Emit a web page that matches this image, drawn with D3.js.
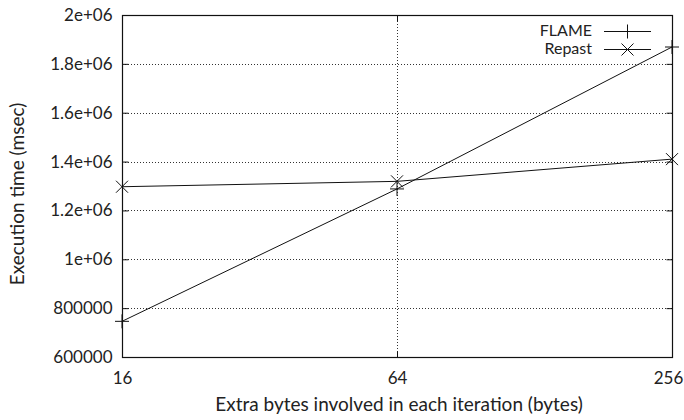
<!DOCTYPE html>
<html>
<head>
<meta charset="utf-8">
<script src="https://cdn.jsdelivr.net/npm/d3@7"></script>
<style>
  html, body { margin: 0; padding: 0; background: #fff; }
  svg { display: block; }
  text { font-family: Lato, "Open Sans", sans-serif; fill: #222; }
</style>
</head>
<body>
<svg id="chart" width="684" height="420"></svg>
<script>
// Execution time vs. extra bytes per iteration
const bytes = [16, 64, 256];
const flame = [746000, 1288000, 1869000];
const repast = [1297000, 1319000, 1410000];
const seriesNames = ["FLAME", "Repast"];
const yTicks = [600000, 800000, 1000000, 1200000, 1400000, 1600000, 1800000, 2000000];
const yTickLabels = ["600000", "800000", "1e+06", "1.2e+06", "1.4e+06", "1.6e+06", "1.8e+06", "2e+06"];

const svg = d3.select("#chart");
const pLeft = 122, pRight = 672, pTop = 15, pBottom = 357;
const font = "Lato, 'Open Sans', sans-serif";

const x = d3.scaleLog().base(4).domain([16, 256]).range([pLeft, pRight]);
const y = d3.scaleLinear().domain([600000, 2000000]).range([pBottom, pTop]);

// dotted grid at interior ticks
const grid = svg.append("g").attr("stroke", "#333").attr("stroke-width", 1)
  .attr("stroke-dasharray", "1,2");
yTicks.slice(1, -1).forEach(v => {
  grid.append("line").attr("x1", pLeft).attr("x2", pRight)
    .attr("y1", Math.round(y(v)) + 0.5).attr("y2", Math.round(y(v)) + 0.5);
});
bytes.slice(1, -1).forEach(v => {
  grid.append("line").attr("y1", pTop).attr("y2", pBottom)
    .attr("x1", Math.round(x(v)) + 0.5).attr("x2", Math.round(x(v)) + 0.5);
});

// axes
const yAxis = d3.axisLeft(y).tickValues(yTicks)
  .tickFormat((d, i) => yTickLabels[i]).tickSize(-6).tickPadding(10);
const gy = svg.append("g").attr("transform", `translate(${pLeft + 0.5},0)`).call(yAxis);
const xAxis = d3.axisBottom(x).tickValues(bytes).tickFormat(d3.format("d"))
  .tickSize(-6).tickPadding(14);
const gx = svg.append("g").attr("transform", `translate(0,${pBottom + 0.5})`).call(xAxis);
// mirrored ticks on right and top
const yAxisR = d3.axisRight(y).tickValues(yTicks).tickFormat("").tickSize(-6);
const gyr = svg.append("g").attr("transform", `translate(${pRight + 0.5},0)`).call(yAxisR);
const xAxisT = d3.axisTop(x).tickValues(bytes).tickFormat("").tickSize(-6);
const gxt = svg.append("g").attr("transform", `translate(0,${pTop + 0.5})`).call(xAxisT);
[gy, gx, gyr, gxt].forEach(g => {
  g.select(".domain").remove();
  g.selectAll(".tick line").attr("stroke", "#111");
  g.selectAll("text").style("font-family", font)
    .style("font-size", "17px").attr("fill", "#222");
});
// keep the last x label inside the page
gx.selectAll(".tick text").filter(d => d === 256).attr("dx", "-4");

// border
svg.append("rect").attr("x", pLeft + 0.5).attr("y", pTop + 0.5)
  .attr("width", pRight - pLeft).attr("height", pBottom - pTop)
  .attr("fill", "none").attr("stroke", "#111").attr("stroke-width", 1.2);

// axis titles
svg.append("text").attr("x", (pLeft + pRight) / 2 + 2).attr("y", 411)
  .attr("text-anchor", "middle").style("font-size", "19px")
  .text("Extra bytes involved in each iteration (bytes)");
svg.append("text").attr("transform", `translate(24,${(pTop + pBottom) / 2 + 8}) rotate(-90)`)
  .attr("text-anchor", "middle").style("font-size", "19px")
  .text("Execution time (msec)");

// markers
const plus = (g, cx, cy, r) => {
  g.append("path").attr("d", `M${cx - r},${cy}H${cx + r}M${cx},${cy - r}V${cy + r}`)
    .attr("stroke", "#111").attr("fill", "none").attr("stroke-width", 1);
};
const cross = (g, cx, cy, r) => {
  g.append("path").attr("d", `M${cx - r},${cy - r}L${cx + r},${cy + r}M${cx - r},${cy + r}L${cx + r},${cy - r}`)
    .attr("stroke", "#111").attr("fill", "none").attr("stroke-width", 1);
};

const line = d3.line().x(d => x(d[0])).y(d => y(d[1]));
const series = [
  { name: seriesNames[0], values: flame, marker: plus, r: 7 },
  { name: seriesNames[1], values: repast, marker: cross, r: 6 }
];
const plot = svg.append("g");
series.forEach(s => {
  const pts = bytes.map((b, i) => [b, s.values[i]]);
  plot.append("path").datum(pts).attr("d", line)
    .attr("fill", "none").attr("stroke", "#111").attr("stroke-width", 1);
  pts.forEach(p => s.marker(plot, x(p[0]), y(p[1]), s.r));
});

// legend
const leg = svg.append("g");
series.forEach((s, i) => {
  const ly = 31 + i * 18;
  leg.append("text").attr("x", 592).attr("y", ly).attr("dy", "0.33em")
    .attr("text-anchor", "end").style("font-size", "16px").text(s.name);
  leg.append("line").attr("x1", 604).attr("x2", 651).attr("y1", ly + 0.5).attr("y2", ly + 0.5)
    .attr("stroke", "#111");
  s.marker(leg, 627.5, ly + 0.5, s.r);
});
</script>
</body>
</html>
